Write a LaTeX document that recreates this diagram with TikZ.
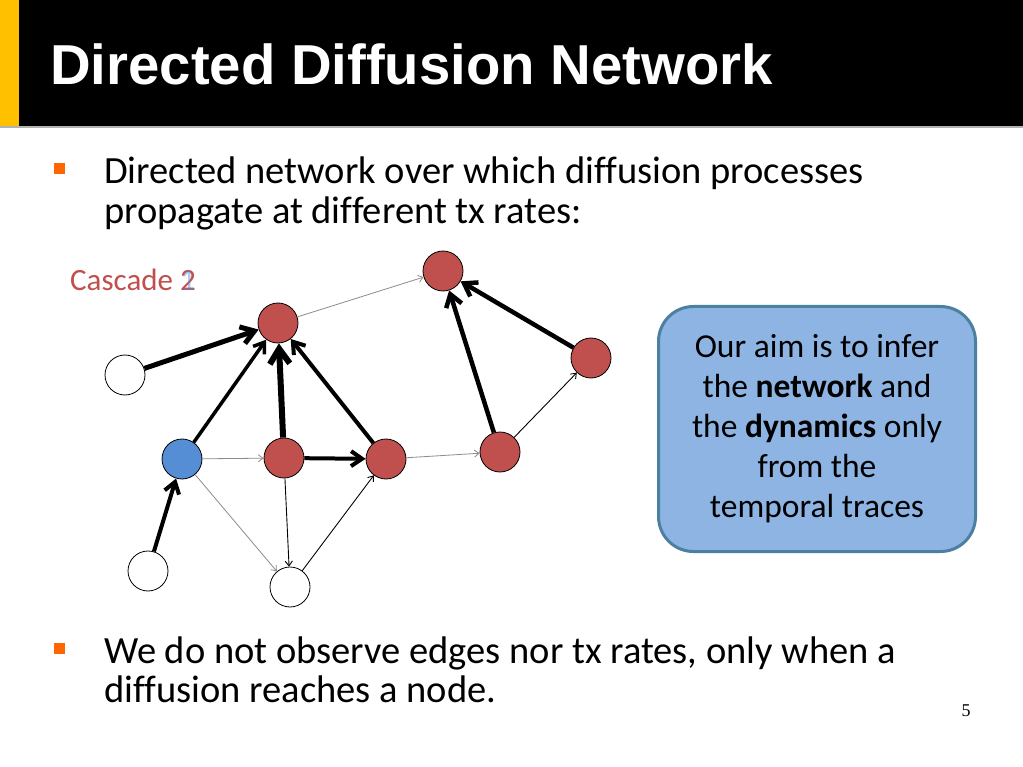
\documentclass[tikz,border=0pt]{standalone}
\usepackage{fontspec}
\setmainfont{Carlito}[Ligatures=NoCommon]
\newfontfamily\headfont{Liberation Sans}
\newfontfamily\numfont{Liberation Serif}
\usetikzlibrary{arrows.meta}

\definecolor{infected}{RGB}{192,80,77}
\definecolor{source}{RGB}{85,142,213}
\definecolor{bulletc}{RGB}{255,102,0}
\definecolor{boxfill}{RGB}{142,180,227}
\definecolor{boxline}{RGB}{75,128,160}
\definecolor{barc}{RGB}{255,192,0}

\begin{document}
\begin{tikzpicture}[x=1pt,y=-1pt,>={Straight Barb[length=3pt 2,width=5pt 2.5]}]
        \tikzstyle{vtx}=[circle,draw=black,line width=0.8pt,minimum size=40pt,inner sep=0pt]
        \tikzstyle{hit}=[vtx,fill=infected]
        \tikzstyle{src}=[vtx,fill=source]
        \tikzstyle{idle}=[vtx,fill=white]
        \tikzstyle{weak}=[->,draw=black!45,line width=0.8pt]
        \tikzstyle{thin}=[->,draw=black,line width=0.9pt]
        \tikzstyle{strong}=[->,draw=black,line width=3.5pt]
        \tikzstyle{txt}=[anchor=base west,inner sep=0pt,font=\fontsize{38.5}{40}\selectfont]

        \useasboundingbox (0,0) rectangle (1023,767);
        \fill[white] (0,0) rectangle (1023,767);

        % title bar
        \fill[black] (0,0) rectangle (1023,126);
        \fill[barc] (0,0) rectangle (19,126);
        \draw[black!30,line width=1.5pt] (0,127) -- (1023,127);
        \node[anchor=base west,inner sep=0pt,text=white,
              font=\headfont\bfseries\fontsize{56.3}{66}\selectfont] (title) at (50,85) {Directed Diffusion Network};

        % bullets
        \fill[bulletc] (54,163) rectangle (65,174);
        \node[txt] (b1a) at (104,184) {Directed network over which diffusion processes};
        \node[txt] (b1b) at (104,224) {propagate at different tx rates:};
        \fill[bulletc] (54,643) rectangle (65,654);
        \node[txt] (b2a) at (104,663) {We do not observe edges nor tx rates, only when a};
        \node[txt] (b2b) at (104,702) {diffusion reaches a node.};

        % cascade label
        \node[anchor=base west,inner sep=0pt,text=infected,font=\fontsize{31}{34}\selectfont] (casc) at (70,291) {Cascade 2};
        \node[anchor=base east,inner sep=0pt,text=source,opacity=0.45,font=\fontsize{31}{34}\selectfont] (casc1) at (casc.base east) {1};

        % nodes
        \node[idle] (w1) at (125,375) {};
        \node[hit]  (r1) at (278,323) {};
        \node[hit]  (r5) at (443,271) {};
        \node[hit]  (r6) at (591,358) {};
        \node[src]  (s)  at (182,459) {};
        \node[hit]  (r2) at (284,458) {};
        \node[hit]  (r3) at (386,459) {};
        \node[hit]  (r4) at (500,452) {};
        \node[idle] (w2) at (148,571) {};
        \node[idle] (w3) at (290,587) {};

        % edges
        \draw[strong,line width=5pt] (w1) -- (r1);
        \draw[strong] (s) -- (r1);
        \draw[strong,line width=6pt] (r2) -- (r1);
        \draw[strong,line width=4pt] (r3) -- (r1);
        \draw[weak] (r1) -- (r5);
        \draw[weak] (s) -- (r2);
        \draw[strong,line width=4pt] (r2) -- (r3);
        \draw[weak] (r3) -- (r4);
        \draw[strong,line width=4.5pt] (r4) -- (r5);
        \draw[strong,line width=4.5pt] (r6) -- (r5);
        \draw[thin] (r4) -- (r6);
        \draw[strong,line width=4pt] (w2) -- (s);
        \draw[weak] (s) -- (w3);
        \draw[thin] (r2) -- (w3);
        \draw[thin] (w3) -- (r3);

        % aim box
        \node[draw=boxline,line width=3pt,fill=boxfill,rounded corners=35pt,
              minimum width=317pt,minimum height=245pt,align=center,
              font=\fontsize{33.5}{40}\selectfont] (aim) at (817,429)
              {Our aim is to infer\\the \textbf{network} and\\the \textbf{dynamics} only\\from the\\temporal traces};

        \node[font=\numfont\fontsize{18}{20}\selectfont] (pg) at (966,711) {5};
\end{tikzpicture}
\end{document}
